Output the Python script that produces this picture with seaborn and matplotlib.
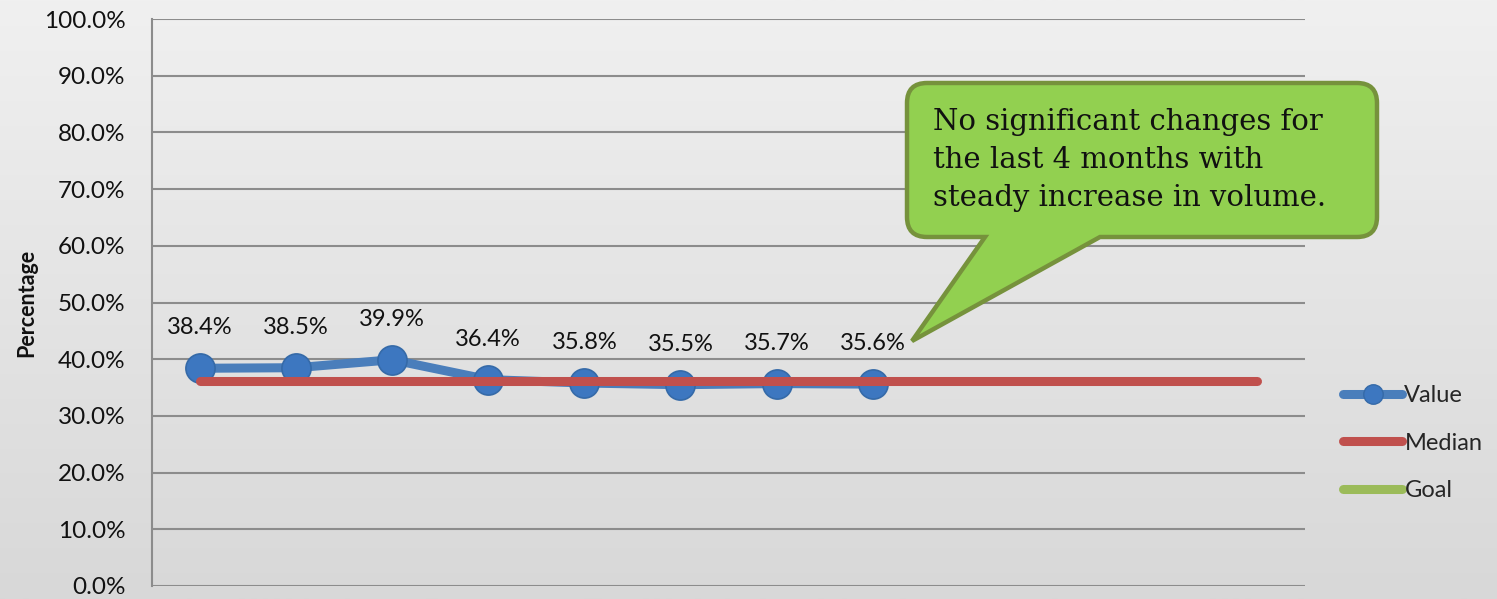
import numpy as np
import matplotlib
matplotlib.use("Agg")
import matplotlib.pyplot as plt
import seaborn as sns
from matplotlib.lines import Line2D
from matplotlib.path import Path
from matplotlib.patches import PathPatch
from matplotlib.transforms import IdentityTransform
from matplotlib.ticker import PercentFormatter

# data
values = [38.4, 38.5, 39.9, 36.4, 35.8, 35.5, 35.7, 35.6]
median_value = 36.1
n_periods = 12
y_ticks = [0, 10, 20, 30, 40, 50, 60, 70, 80, 90, 100]
callout_lines = ["No significant changes for",
                 "the last 4 months with",
                 "steady increase in volume."]

blue = "#4a7ebb"
marker_blue = "#3d77c0"
red = "#c0504d"
green = "#9bbb59"

sns.set_theme(style="white")
plt.rcParams["font.family"] = ["Lato", "DejaVu Sans"]

W, H = 1497, 599
fig = plt.figure(figsize=(W / 100, H / 100), dpi=100)

# gradient background
bg = fig.add_axes([0, 0, 1, 1], zorder=-10)
grad = np.linspace(0, 1, 256).reshape(-1, 1)
bg.imshow(grad, aspect="auto", cmap=matplotlib.colors.LinearSegmentedColormap.from_list(
    "bg", ["#f0f0f0", "#d8d8d8"]), extent=[0, 1, 0, 1])
bg.axis("off")

ax = fig.add_axes([152 / W, 13 / H, 1153 / W, 567 / H])
ax.patch.set_alpha(0)

x_vals = np.arange(len(values))
x_all = np.arange(n_periods)

sns.lineplot(x=x_all, y=[median_value] * n_periods, ax=ax, color=red, lw=6.5,
             solid_capstyle="round", zorder=3)
sns.lineplot(x=x_vals, y=values, ax=ax, color=blue, lw=6.5, marker="o",
             markersize=21, markerfacecolor=marker_blue, markeredgecolor="#356aa8",
             markeredgewidth=1.2, solid_capstyle="round", zorder=2)

for x, v in zip(x_vals, values):
    ax.annotate(f"{v:.1f}%", (x, v), xytext=(0, 29), textcoords="offset points",
                ha="center", va="center", fontsize=17, color="#111111")

ax.set_xlim(-0.5, n_periods - 0.5)
ax.set_ylim(0, 100)
ax.set_yticks(y_ticks)
ax.yaxis.set_major_formatter(PercentFormatter(decimals=1))
ax.set_xticks([])
ax.tick_params(axis="y", length=0, pad=19, labelsize=17.5, labelcolor="#111111")
ax.grid(axis="y", color="#8c8c8c", lw=1.5)
ax.set_axisbelow(True)
for side in ["top", "right", "bottom"]:
    ax.spines[side].set_visible(False)
ax.spines["left"].set_color("#8c8c8c")
ax.spines["left"].set_linewidth(1.5)
ax.set_ylabel("Percentage", fontsize=15.5, fontweight="bold", labelpad=5, color="#111111")

# legend
handles = [
    Line2D([], [], color=blue, lw=6.5, marker="o", markersize=14,
           markerfacecolor=marker_blue, markeredgecolor="#356aa8", solid_capstyle="round"),
    Line2D([], [], color=red, lw=6.5, solid_capstyle="round"),
    Line2D([], [], color=green, lw=6.5, solid_capstyle="round"),
]
fig.legend(handles, ["Value", "Median", "Goal"], loc="center left",
           bbox_to_anchor=(1343 / W, 1 - 443 / H), frameon=False, fontsize=17,
           handlelength=2.5, handletextpad=0.1, labelspacing=1.12, borderaxespad=0,
           borderpad=0)

# speech bubble callout (pixel coords, image y measured from top)
x0, x1, top, bot, r = 907, 1377, 83, 237, 20
tip = (912, 341)
base_l, base_r = 985, 1100
pts = [
    ((x0 + r, top), Path.MOVETO),
    ((x1 - r, top), Path.LINETO),
    ((x1, top), Path.CURVE3), ((x1, top + r), Path.CURVE3),
    ((x1, bot - r), Path.LINETO),
    ((x1, bot), Path.CURVE3), ((x1 - r, bot), Path.CURVE3),
    ((base_r, bot), Path.LINETO),
    (tip, Path.LINETO),
    ((base_l, bot), Path.LINETO),
    ((x0 + r, bot), Path.LINETO),
    ((x0, bot), Path.CURVE3), ((x0, bot - r), Path.CURVE3),
    ((x0, top + r), Path.LINETO),
    ((x0, top), Path.CURVE3), ((x0 + r, top), Path.CURVE3),
    ((x0 + r, top), Path.CLOSEPOLY),
]
verts = [(px, H - py) for (px, py), _ in pts]
codes = [c for _, c in pts]
bubble = PathPatch(Path(verts, codes), facecolor="#92d050", edgecolor="#76923c",
                   lw=3.2, transform=IdentityTransform(), zorder=5)
fig.patches.append(bubble)
for i, line in enumerate(callout_lines):
    fig.text(933 / W, 1 - (130 + 38 * i) / H, line, ha="left", va="baseline",
             fontsize=21, family=["DejaVu Serif"], color="#111111", zorder=6)

fig.savefig("out.png", dpi=100)
